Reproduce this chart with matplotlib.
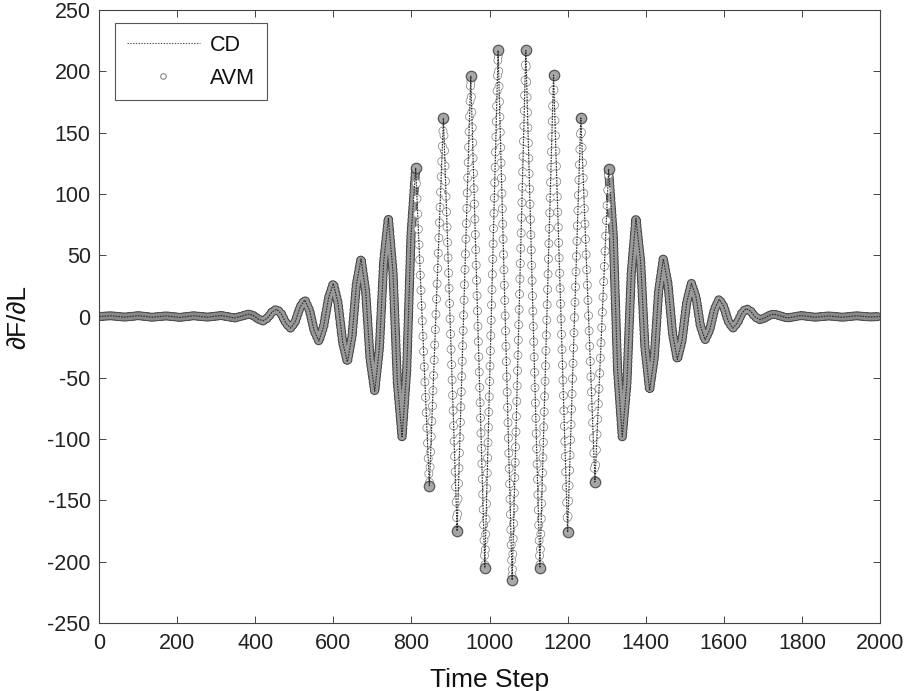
import matplotlib
matplotlib.use('Agg')
import matplotlib.pyplot as plt
from matplotlib.lines import Line2D
import numpy as np

plt.rcParams['font.family'] = ['Liberation Sans', 'DejaVu Sans']
plt.rcParams['lines.scale_dashes'] = False
plt.rcParams['axes.unicode_minus'] = False

# Signal samples (time step, dF/dL):
# extrema everywhere, plus shoulder points on the medium-size humps
time_steps = [0, 30, 66, 101, 136, 172, 207, 242, 278, 313, 348, 384,
              396, 408, 420, 432, 443, 455, 467, 479, 491, 503, 515, 527,
              539, 551, 563, 575, 588, 600, 612, 624, 636, 648, 659, 671,
              683, 694, 706, 718, 729, 741, 753, 764, 776, 788, 799, 811,
              846, 882, 917, 952, 988, 1022, 1058, 1093, 1129, 1164, 1200,
              1234, 1270, 1305,
              1317, 1328, 1340, 1352, 1363, 1375, 1387, 1398, 1410, 1422, 1433,
              1445, 1457, 1469, 1481, 1493, 1505, 1517, 1529, 1540, 1552, 1564,
              1576, 1588, 1600, 1611, 1623, 1634, 1646, 1657, 1669, 1680, 1692,
              1704, 1716, 1728, 1763, 1798, 1834, 1869, 1904, 1940, 1975, 2000]
dfdl = [0.0, 0.6, -0.5, 0.7, -0.6, 0.5, -0.7, 0.6, -0.5, 0.8, -1.2, 2.0,
        0.6, -2.1, -3.5, -1.1, 3.6, 6.0, 2.1, -5.6, -9.5, -3.8, 7.8, 13.5,
        5.1, -11.6, -20.0, -8.3, 15.3, 27.0, 11.0, -21.0, -37.0, -16.0, 26.0, 47.0,
        20.0, -34.0, -61.0, -25.8, 44.8, 80.0, 35.5, -53.5, -98.0, -43.3, 66.3, 121.0,
        -138.0, 162.0, -175.0, 196.0, -205.0, 217.0, -215.0, 217.0, -205.0, 197.0, -176.0,
        162.0, -135.0, 120.0,
        65.5, -43.5, -98.0, -53.5, 35.5, 80.0, 45.0, -25.0, -60.0, -33.3, 20.3,
        47.0, 26.5, -14.5, -35.0, -19.5, 11.5, 27.0, 15.5, -7.5, -19.0, -10.8,
        5.8, 14.0, 8.1, -3.6, -9.5, -5.5, 2.5, 6.5, 4.3, -0.3, -2.5,
        -1.4, 0.9, 2.0, -1.2, 0.8, -0.6, 0.5, -0.6, 0.6, -0.4, 0.0]

# time steps of the extrema of the large oscillations (dense AVM clusters)
cluster_steps = [811, 846, 882, 917, 952, 988, 1022, 1058, 1093, 1129,
                 1164, 1200, 1234, 1270, 1305]

x_ticks = [0, 200, 400, 600, 800, 1000, 1200, 1400, 1600, 1800, 2000]
y_ticks = [-250, -200, -150, -100, -50, 0, 50, 100, 150, 200, 250]

fig = plt.figure(figsize=(9.06, 6.91), dpi=100)
ax = fig.add_axes([0.1093, 0.0984, 0.862, 0.8871])

t = np.array(time_steps, dtype=float)
v = np.array(dfdl, dtype=float)


def seg(lo, hi):
    m = (t >= lo) & (t <= hi)
    return t[m], v[m]


def rings(lo, hi, spacing, edge, inner, outer_lw=6.4, inner_lw=5.3):
    x, y = seg(lo, hi)
    ls = (0, (0.01, spacing))
    ax.plot(x, y, color=edge, lw=outer_lw, linestyle=ls, dash_capstyle='round',
            dash_joinstyle='round', zorder=2)
    ax.plot(x, y, color=inner, lw=inner_lw, linestyle=ls, dash_capstyle='round',
            dash_joinstyle='round', zorder=2.1)


# AVM samples (rings along the curve; denser where the signal is small)
rings(0, 420, 2.0, '#505050', '#8a8a8a', 6.6, 5.0)
rings(1692, 2000, 2.0, '#505050', '#8a8a8a', 6.6, 5.0)
rings(420, 811, 3.0, '#4a4a4a', '#9a9a9a', 6.8, 5.2)
rings(1305, 1692, 3.0, '#4a4a4a', '#9a9a9a', 6.8, 5.2)
rings(811, 1305, 11.0, '#858585', 'white')

# clustering of AVM samples at the extrema of the large oscillations
mask_c = np.isin(t, cluster_steps)
ax.plot(t[mask_c], v[mask_c], linestyle='none', marker='o', ms=7.5,
        mfc='#a0a0a0', mec='#4a4a4a', mew=0.9, alpha=0.9, zorder=2.2)

# CD line
ax.plot(t, v, color='#2e2e2e', lw=0.85, linestyle=(0, (1.2, 0.8)), zorder=3)

ax.set_xlim(0, 2000)
ax.set_ylim(-250, 250)
ax.set_xticks(x_ticks)
ax.set_yticks(y_ticks)
ax.tick_params(direction='in', length=5, width=0.7, top=True, right=True,
               labelsize=15.5, pad=6, color='#444444', labelcolor='#222222')
ax.tick_params(axis='x', pad=7)
for s in ax.spines.values():
    s.set_color('#444444')
    s.set_linewidth(0.8)

ax.set_xlabel('Time Step', fontsize=19, color='#111111', labelpad=10)
ax.set_ylabel('∂F/∂L', fontsize=19, color='#111111', labelpad=12)

cd_handle = Line2D([], [], color='#555555', lw=0.8, linestyle=(0, (1, 1)))
avm_handle = Line2D([], [], linestyle='none', marker='o', ms=4.0, mfc='none',
                    mec='#777777', mew=0.7)
leg = ax.legend([cd_handle, avm_handle], ['CD', 'AVM'], loc='upper left',
                bbox_to_anchor=(0.0205, 0.979), borderaxespad=0, fontsize=15.5,
                handlelength=3.4, handletextpad=0.45, labelspacing=0.55,
                borderpad=0.55, frameon=True, fancybox=False, edgecolor='#555555',
                framealpha=1)
leg.get_frame().set_linewidth(0.8)
for txt in leg.get_texts():
    txt.set_color('#111111')

fig.savefig('out.png', dpi=100)
